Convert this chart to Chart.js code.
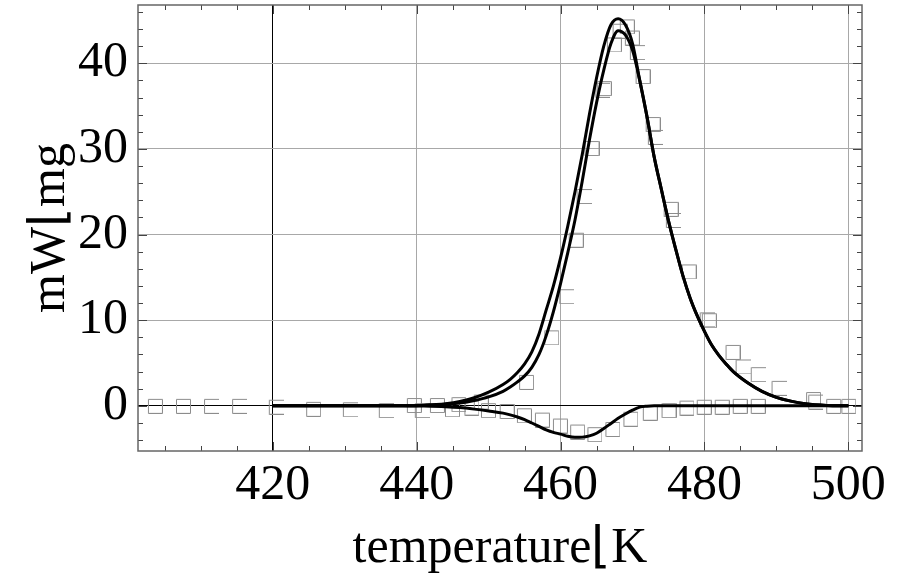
<!DOCTYPE html>
<html>
<head>
<meta charset="utf-8">
<script src="https://cdn.jsdelivr.net/npm/chart.js@4.4.0/dist/chart.umd.min.js"></script>
<style>
  html, body { margin: 0; padding: 0; background: #fff; }
</style>
</head>
<body>
<canvas id="mychart" width="899" height="582"></canvas>
<script>
// fitted curves (K, mW/mg)
var curveT = [420, 430, 438, 441, 444, 446, 448, 450,
    452, 453, 454, 455, 456, 457, 458, 459, 460, 461, 462, 463, 464, 465, 466, 467, 468,
    469, 470, 471, 472, 473, 474, 475, 476, 477, 478, 479, 480, 481, 482, 483, 484,
    486, 488, 490, 492, 494, 497, 500];
var outerPeak = [0, 0, 0.02, 0.08, 0.25, 0.5, 0.95, 1.6,
    2.5, 3.1, 3.9, 4.9, 6.3, 8.4, 11.2, 14.0, 17.3, 21.0, 25.0, 29.3, 34.0, 38.3, 42.0, 44.5, 45.2,
    44.5, 42.3, 38.0, 33.8, 29.1, 25.3, 21.6, 18.3, 15.2, 12.6, 10.5, 8.7, 7.1, 5.9, 4.9, 4.0,
    2.7, 1.7, 1.0, 0.55, 0.25, 0.05, 0];
var innerPeak = [0, 0, 0.01, 0.05, 0.15, 0.32, 0.62, 1.05,
    1.7, 2.2, 2.8, 3.5, 4.5, 6.0, 8.2, 11.0, 14.3, 17.9, 21.7, 26.2, 31.0, 35.4, 39.2, 42.3, 43.8,
    43.3, 41.5, 38.0, 33.8, 29.1, 25.3, 21.6, 18.3, 15.2, 12.6, 10.5, 8.7, 7.1, 5.9, 4.9, 4.0,
    2.7, 1.7, 1.0, 0.55, 0.25, 0.05, 0];
var dipCurve = [0, 0, 0, -0.03, -0.1, -0.2, -0.38, -0.6,
    -0.85, -1.05, -1.3, -1.6, -2.0, -2.4, -2.8, -3.1, -3.3, -3.55, -3.67, -3.65, -3.5, -3.2, -2.65, -2.05, -1.45,
    -0.95, -0.5, -0.15, -0.04, 0, 0, 0, 0, 0, 0, 0, 0, 0, 0, 0, 0,
    0, 0, 0, 0, 0, 0, 0];

// measured points (open squares)
var squaresT = [403.6, 407.5, 425.6, 439.6, 442.8, 445.8, 448.9, 455.2, 458.7, 462.1, 464.3, 466.0, 467.4, 468.2, 469.2, 469.9, 471.4, 472.8, 475.3, 477.8, 480.6, 483.9, 495.1, 497.9, 500.0];
var squaresMW = [0, 0, -0.35, 0.1, 0.1, 0.2, 0.5, 2.8, 8.0, 19.4, 30.1, 37.1, 42.2, 43.8, 44.3, 43.0, 38.5, 32.9, 23.0, 15.7, 10.0, 6.3, 0.8, 0, 0];
var bracketsT = [411.4, 415.3, 420.4, 430.7, 435.7, 440.7, 460.8, 463.2, 465.8, 470.6, 473.1, 475.6, 480.3, 485.3, 487.4, 490.3, 495.4];
var bracketsMW = [0, 0, -0.1, -0.4, -0.5, -0.5, 12.8, 24.5, 36.9, 41.3, 31.4, 21.7, 10.1, 4.6, 3.7, 2.1, 0.5];
var dipT = [444.9, 447.6, 449.9, 452.5, 454.9, 457.4, 459.9, 462.3, 464.7, 467.2, 469.7, 472.4, 475.0, 477.5, 479.9, 482.4, 484.9, 487.4];
var dipMW = [-0.4, -0.2, -0.5, -0.6, -1.1, -1.6, -2.3, -3.0, -3.3, -2.7, -1.5, -0.8, -0.5, -0.2, -0.1, -0.1, 0, 0];

var xTicks = [420, 440, 460, 480, 500];
var yTicks = [0, 10, 20, 30, 40];

function pairs(t, v) {
    return t.map(function (x, i) { return { x: x, y: v[i] }; });
}

// marker images; drawn at their own size so the layout does not pad for them
function marker(closed) {
    var cv = document.createElement('canvas');
    cv.width = 16;
    cv.height = 16;
    var g = cv.getContext('2d');
    g.strokeStyle = '#8c8c8c';
    g.lineWidth = 1;
    g.beginPath();
    if (closed) {
        g.rect(1.5, 1.5, 14, 14);
    } else {
        // square with the right side missing
        g.moveTo(16, 1.5); g.lineTo(1.5, 1.5); g.lineTo(1.5, 15.5); g.lineTo(16, 15.5);
    }
    g.stroke();
    return cv;
}
var squareImg = marker(true);
var bracketImg = marker(false);

// frame plus inward tick marks on all four sides
var framePlugin = {
    id: 'frame',
    afterDatasetsDraw: function (chart) {
        var a = chart.chartArea, c = chart.ctx;
        var sx = chart.scales.x, sy = chart.scales.y;
        c.save();
        c.strokeStyle = '#444';
        c.lineWidth = 1;
        c.beginPath();
        for (var t = 405; t <= 500; t += 5) {
            var px = Math.round(sx.getPixelForValue(t)) + 0.5;
            var len = t % 20 === 0 ? 9 : 5;
            c.moveTo(px, a.bottom); c.lineTo(px, a.bottom - len);
            c.moveTo(px, a.top); c.lineTo(px, a.top + len);
        }
        for (var v = -4; v <= 46; v += 2) {
            var py = Math.round(sy.getPixelForValue(v)) + 0.5;
            var l2 = v % 10 === 0 ? 9 : 5;
            c.moveTo(a.left, py); c.lineTo(a.left + l2, py);
            c.moveTo(a.right, py); c.lineTo(a.right - l2, py);
        }
        c.stroke();
        c.strokeStyle = '#666';
        c.lineWidth = 1.5;
        c.strokeRect(a.left, a.top, a.right - a.left, a.bottom - a.top);
        c.restore();
    }
};

var serif = 'Liberation Serif';
var ctx = document.getElementById('mychart');
var chart = new Chart(ctx, {
    type: 'scatter',
    data: {
        datasets: [
            { data: pairs(curveT, outerPeak), showLine: true, pointRadius: 0, borderColor: '#000', borderWidth: 3, cubicInterpolationMode: 'monotone' },
            { data: pairs(curveT, innerPeak), showLine: true, pointRadius: 0, borderColor: '#000', borderWidth: 3, cubicInterpolationMode: 'monotone' },
            { data: pairs(curveT, dipCurve), showLine: true, pointRadius: 0, borderColor: '#000', borderWidth: 3, cubicInterpolationMode: 'monotone' },
            { data: pairs(squaresT, squaresMW), pointStyle: squareImg, pointRadius: 1, borderWidth: 0 },
            { data: pairs(bracketsT, bracketsMW), pointStyle: bracketImg, pointRadius: 1, borderWidth: 0 },
            { data: pairs(dipT, dipMW), pointStyle: squareImg, pointRadius: 1, borderWidth: 0 }
        ]
    },
    options: {
        responsive: false,
        animation: false,
        events: [],
        layout: { padding: { top: 5, right: 37, left: 0, bottom: 0 } },
        plugins: { legend: { display: false }, tooltip: { enabled: false } },
        scales: {
            x: {
                type: 'linear', min: 401.25, max: 501.9,
                afterBuildTicks: function (s) { s.ticks = xTicks.map(function (v) { return { value: v }; }); },
                ticks: { color: '#000', padding: 5, maxRotation: 0, autoSkip: false, font: { family: serif, size: 50 } },
                grid: { drawTicks: false, lineWidth: 1, color: function (c) { return c.tick && c.tick.value === 420 ? '#000' : '#a8a8a8'; } },
                border: { display: false },
                title: { display: true, text: 'temperature⌊K', color: '#000', font: { family: serif, size: 50 }, padding: { top: 0, bottom: 3 } },
                afterFit: function (s) { s.height = 131; s.paddingLeft = 0; s.paddingRight = 0; }
            },
            y: {
                type: 'linear', min: -5.27, max: 46.8,
                afterBuildTicks: function (s) { s.ticks = yTicks.map(function (v) { return { value: v }; }); },
                ticks: { color: '#000', padding: 10, autoSkip: false, font: { family: serif, size: 50 } },
                grid: { drawTicks: false, lineWidth: 1, color: function (c) { return c.tick && c.tick.value === 0 ? '#000' : '#a8a8a8'; } },
                border: { display: false },
                title: { display: true, text: 'mW⌊mg', color: '#000', font: { family: serif, size: 50 }, padding: { top: 21, bottom: 0 } },
                afterFit: function (s) { s.width = 138; s.paddingTop = 0; s.paddingBottom = 0; }
            }
        }
    },
    plugins: [framePlugin]
});
</script>
</body>
</html>
